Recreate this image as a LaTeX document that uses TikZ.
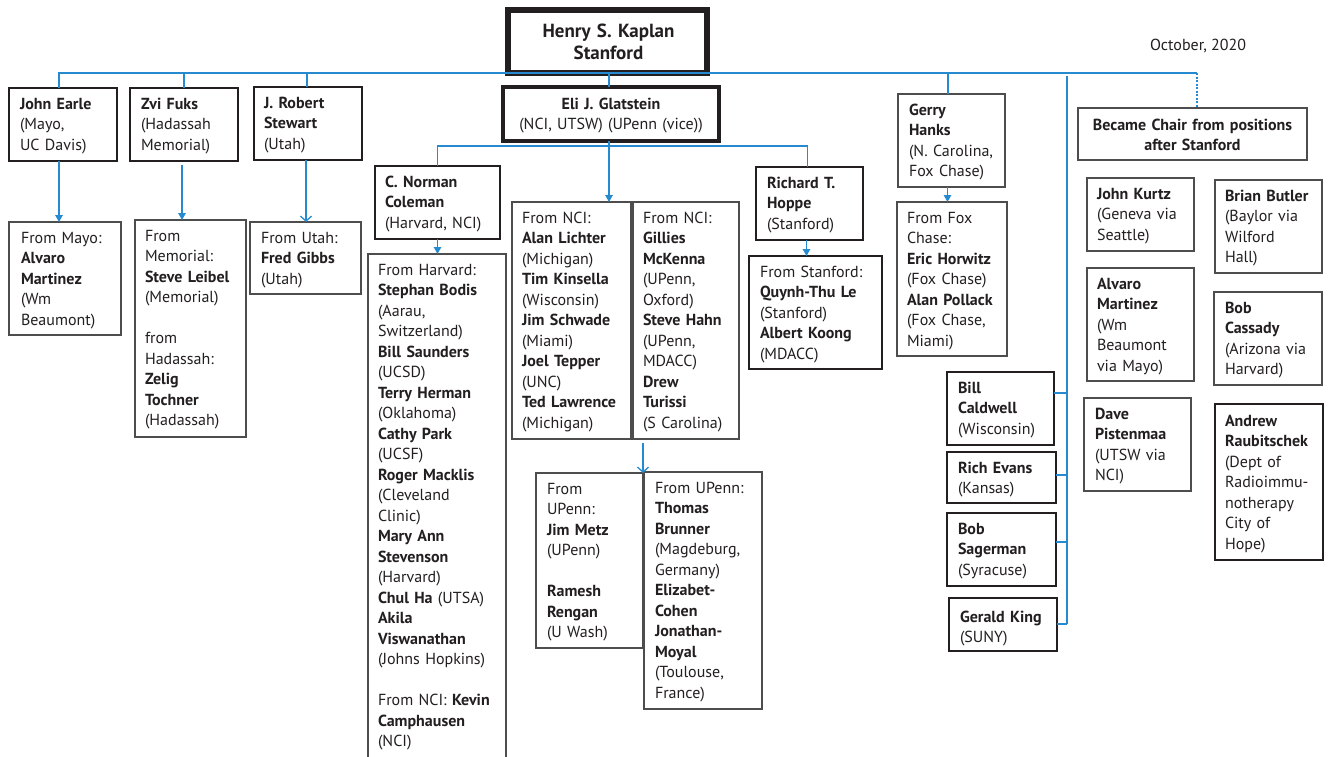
\documentclass[tikz,border=0pt]{standalone}
\usepackage{fontspec}
\setmainfont{PT Sans}
\usetikzlibrary{arrows.meta,calc}
\definecolor{ink}{HTML}{231F20}
\definecolor{bline}{RGB}{38,138,208}
\definecolor{thinc}{HTML}{4D4D4D}
\newcommand{\nm}[1]{\textbf{#1}}
% name, style, x, y, w, h, text offset (x,y of first baseline), text
\newcommand{\cbox}[8]{%
  \node[#2, minimum width=#5pt, minimum height=#6pt, anchor=north west] (#1) at (#3,#4) {};
  \node[txt, anchor=base west] (#1t) at ($(#1.north west)+(#7)$) {#8};}
% name, style, x, y, w, h, first baseline offset, text (centred)
\newcommand{\ccbox}[8]{%
  \node[#2, minimum width=#5pt, minimum height=#6pt, anchor=north west] (#1) at (#3,#4) {};
  \node[txt, align=center, text width=#5pt, anchor=base] (#1t) at ($(#1.north)+(0,#7)$) {#8};}
\begin{document}
\begin{tikzpicture}[x=1pt,y=-1pt,
  txt/.style={inner sep=0pt, outer sep=0pt, align=left, text width=150pt, text=ink,
    font=\fontsize{16}{20.5}\selectfont},
  boxbase/.style={rectangle, fill=white, inner sep=0pt, outer sep=0pt},
  thinbox/.style={boxbase, draw=thinc, line width=1.1pt},
  thickbox/.style={boxbase, draw=ink, line width=2.6pt},
  elibox/.style={boxbase, draw=ink, line width=4pt},
  henrybox/.style={boxbase, draw=ink, line width=5.5pt},
  conn/.style={draw=bline, line width=1.3pt},
  farr/.style={conn, -{Triangle[length=7pt,width=7.5pt]}},
  oarr/.style={conn, -{Straight Barb[length=5pt,width=11pt]}}]
\useasboundingbox (0,0) rectangle (1330,756);
\fill[white] (0,0) rectangle (1330,756);

% top
\node[henrybox, minimum width=199pt, minimum height=63pt, anchor=north west] (Henry) at (508,10) {};
\node[txt, align=center, text width=199pt, anchor=base, font=\fontsize{19}{22}\selectfont] (Henryt) at ($(Henry.north)+(1,27.3)$) {\nm{Henry S. Kaplan}\\\nm{Stanford}};
\node[txt, text width=, anchor=base east] (date) at (1246,50) {October, 2020};

% first row
\cbox{Earle}{thickbox}{9}{88}{108}{73}{11,21}{\nm{John Earle}\\(Mayo,\\UC Davis)}
\cbox{Fuks}{thickbox}{130}{88}{108}{73}{11,21}{\nm{Zvi Fuks}\\(Hadassah\\Memorial)}
\cbox{Stewart}{thickbox}{254}{87}{108}{73}{10,21}{\nm{J. Robert}\\\nm{Stewart}\\(Utah)}
\ccbox{Eli}{elibox}{503}{87}{216}{54}{22}{\nm{Eli J. Glatstein}\\(NCI, UTSW) (UPenn (vice))}
\cbox{Hanks}{thinbox}{898}{94}{107}{93}{11,21}{\nm{Gerry}\\\nm{Hanks}\\(N. Carolina,\\Fox Chase)}
\ccbox{Chairs}{thinbox}{1078}{108}{229}{52}{22}{\nm{Became Chair from positions}\\\nm{after Stanford}}

% second level left
\cbox{Mayo}{thinbox}{9}{222}{112}{113}{12,21}{From Mayo:\\\nm{Alvaro}\\\nm{Martinez}\\(Wm\\Beaumont)}
\cbox{Memorial}{thinbox}{135}{220}{111}{217}{10,21}{From\\Memorial:\\\nm{Steve Leibel}\\(Memorial)\\[20.5pt]from\\Hadassah:\\\nm{Zelig}\\\nm{Tochner}\\(Hadassah)}
\cbox{Utah}{thinbox}{250}{222}{111}{72}{11,21}{From Utah:\\\nm{Fred Gibbs}\\(Utah)}

% under Glatstein
\cbox{Coleman}{thickbox}{375}{166}{125}{73}{10,21}{\nm{C. Norman}\\\nm{Coleman}\\(Harvard, NCI)}
\cbox{Harvard}{thinbox}{368}{254}{138}{510}{10,21}{From Harvard:\\\nm{Stephan Bodis}\\(Aarau,\\Switzerland)\\\nm{Bill Saunders}\\(UCSD)\\\nm{Terry Herman}\\(Oklahoma)\\\nm{Cathy Park}\\(UCSF)\\\nm{Roger Macklis}\\(Cleveland\\Clinic)\\\nm{Mary Ann}\\\nm{Stevenson}\\(Harvard)\\\nm{Chul Ha} (UTSA)\\\nm{Akila}\\\nm{Viswanathan}\\(Johns Hopkins)\\[20.5pt]From NCI: \nm{Kevin}\\\nm{Camphausen}\\(NCI)}
\cbox{NCIa}{thinbox}{512}{202}{119}{237}{10,21}{From NCI:\\\nm{Alan Lichter}\\(Michigan)\\\nm{Tim Kinsella}\\(Wisconsin)\\\nm{Jim Schwade}\\(Miami)\\\nm{Joel Tepper}\\(UNC)\\\nm{Ted Lawrence}\\(Michigan)}
\cbox{NCIb}{thinbox}{633}{202}{106}{237}{10,21}{From NCI:\\\nm{Gillies}\\\nm{McKenna}\\(UPenn,\\Oxford)\\\nm{Steve Hahn}\\(UPenn,\\MDACC)\\\nm{Drew}\\\nm{Turissi}\\(S Carolina)}
\cbox{UPennA}{thinbox}{536}{473}{107}{175}{11,21}{From\\UPenn:\\\nm{Jim Metz}\\(UPenn)\\[20.5pt]\nm{Ramesh}\\\nm{Rengan}\\(U Wash)}
\cbox{UPennB}{thinbox}{644}{472}{118}{237}{11,21}{From UPenn:\\\nm{Thomas}\\\nm{Brunner}\\(Magdeburg,\\Germany)\\\nm{Elizabet-}\\\nm{Cohen}\\\nm{Jonathan-}\\\nm{Moyal}\\(Toulouse,\\France)}
\cbox{Hoppe}{thickbox}{756}{167}{107}{73}{11,21}{\nm{Richard T.}\\\nm{Hoppe}\\(Stanford)}
\cbox{Stanf}{thickbox}{749}{256}{133}{113}{11,21}{From Stanford:\\\nm{Quynh-Thu Le}\\(Stanford)\\\nm{Albert Koong}\\(MDACC)}

% Hanks branch
\cbox{Fox}{thinbox}{897}{202}{110}{154}{10,21}{From Fox\\Chase:\\\nm{Eric Horwitz}\\(Fox Chase)\\\nm{Alan Pollack}\\(Fox Chase,\\Miami)}

% right column of thick boxes
\cbox{Caldwell}{thickbox}{947}{372}{107}{73}{11,21}{\nm{Bill}\\\nm{Caldwell}\\(Wisconsin)}
\cbox{Evans}{thickbox}{947}{452}{109}{51}{11,21}{\nm{Rich Evans}\\(Kansas)}
\cbox{Sagerman}{thickbox}{947}{513}{109}{73}{11,21}{\nm{Bob}\\\nm{Sagerman}\\(Syracuse)}
\cbox{King}{thickbox}{949}{598}{108}{53}{11,24}{\nm{Gerald King}\\(SUNY)}

% chairs after Stanford
\cbox{Kurtz}{thinbox}{1087}{178}{107}{73}{10,21}{\nm{John Kurtz}\\(Geneva via\\Seattle)}
\cbox{Butler}{thinbox}{1215}{180}{107}{93}{10,21}{\nm{Brian Butler}\\(Baylor via\\Wilford\\Hall)}
\cbox{AlvaroR}{thinbox}{1087}{268}{107}{113}{10,21}{\nm{Alvaro}\\\nm{Martinez}\\(Wm\\Beaumont\\via Mayo)}
\cbox{Cassady}{thinbox}{1214}{292}{108}{93}{11,21}{\nm{Bob}\\\nm{Cassady}\\(Arizona via\\Harvard)}
\cbox{Pisten}{thinbox}{1084}{398}{107}{93}{11,21}{\nm{Dave}\\\nm{Pistenmaa}\\(UTSW via\\NCI)}
\cbox{Raub}{thickbox}{1215}{404}{108}{156}{10,22}{\nm{Andrew}\\\nm{Raubitschek}\\(Dept of\\Radioimmu-\\notherapy\\City of\\Hope)}

% ---------- connectors ----------
\coordinate (busL) at (59,73);
\coordinate (busR) at (1197,73);
\coordinate (vline) at (1067,73);
\draw[conn] (busL |- Earle.north) -- (busL) -- (busR);
\draw[conn, line width=1.2pt, dash pattern=on 2pt off 1.5pt] (busR) -- (busR |- Chairs.north);
\draw[conn] (Fuks.north) -- (Fuks.north |- busL);
\draw[conn] ([xshift=-1pt]Stewart.north) -- ([xshift=-1pt]Stewart.north |- busL);
\draw[conn] ([xshift=-3.5pt]Hanks.north) -- ([xshift=-3.5pt]Hanks.north |- busL);
\draw[conn] ([xshift=1.5pt]Henry.south) -- ([xshift=1.5pt]Henry.south |- Eli.north);

% Glatstein branch
\coordinate (eliBus) at (600,146);
\draw[conn] (Coleman.north) -- (Coleman.north |- eliBus) -- ([xshift=-2pt]Hoppe.north |- eliBus) -- ([xshift=-2pt]Hoppe.north);
\draw[farr] ([xshift=-2pt]Eli.south) -- ([xshift=-2pt]Eli.south |- NCIa.north);

% arrows to second level
\draw[farr] (busL |- Earle.south) -- (busL |- Mayo.north);
\draw[farr, shorten <=4pt] ([xshift=-2pt]Fuks.south) -- ([xshift=-2pt]Fuks.south |- Memorial.north);
\draw[oarr] ([xshift=-2pt]Stewart.south) -- ([xshift=-2pt]Stewart.south |- Utah.north);
\draw[farr] (Coleman.south) -- (Coleman.south |- Harvard.north);
\draw[oarr, shorten <=4pt] (UPennA.north east |- NCIb.south) -- (UPennA.north east);
\draw[farr] ([xshift=-3pt]Hoppe.south) -- ([xshift=-3pt]Hoppe.south |- Stanf.north);
\draw[farr] ([xshift=-4pt]Hanks.south) -- ([xshift=-4pt]Hanks.south |- Fox.north);

% right vertical line
\coordinate (cCald) at ($(Caldwell.north east)+(0,21)$);
\coordinate (cEvans) at ($(Evans.north east)+(0,23)$);
\coordinate (cSager) at ($(Sagerman.north east)+(0,29)$);
\coordinate (cKing) at ($(King.north east)+(0,26)$);
\draw[conn, shorten <=3pt] (vline) -- (vline |- cKing);
\draw[conn] (cCald) -- (vline |- cCald);
\draw[conn] (cEvans) -- (vline |- cEvans);
\draw[conn] (cSager) -- (vline |- cSager);
\draw[conn] (cKing) -- (vline |- cKing);
\end{tikzpicture}
\end{document}
